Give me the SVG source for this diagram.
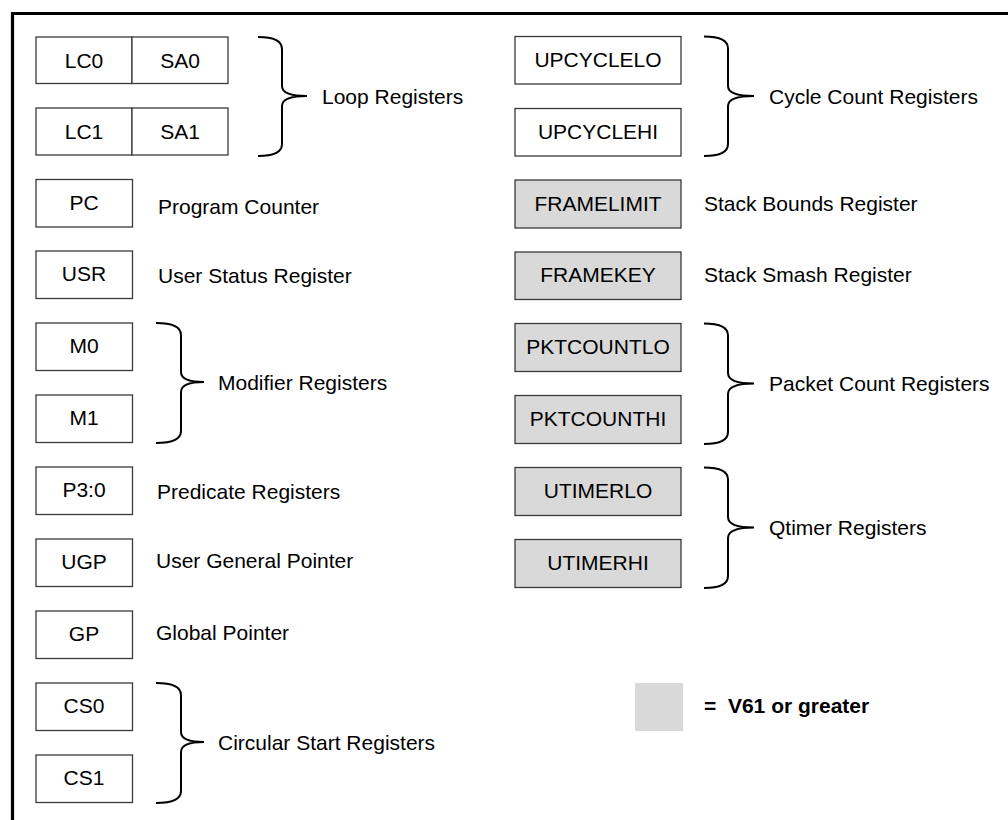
<svg xmlns="http://www.w3.org/2000/svg" width="1008" height="820" viewBox="0 0 1008 820">
<style>
text{font-family:"Liberation Sans",Arial,sans-serif;font-size:21px;fill:#000}
.c{text-anchor:middle}
.b{fill:#fff;stroke:#3a3a3a;stroke-width:1.3}
.g{fill:#d9d9d9;stroke:#3a3a3a;stroke-width:1.3}
.br{fill:none;stroke:#000;stroke-width:2}
.fr{fill:none;stroke:#000;stroke-width:3.2}
.lg{font-weight:bold;white-space:pre}
</style>
<rect width="1008" height="820" fill="#fff"/>
<path class="fr" d="M12.5,820 V13.5 H1008"/>

<g id="loop0"><rect class="b" x="36" y="37" width="96" height="46.5"/><rect class="b" x="132" y="37" width="96" height="46.5"/><text class="c" x="84" y="68">LC0</text><text class="c" x="180" y="68">SA0</text></g>
<g id="loop1"><rect class="b" x="36" y="108" width="96" height="47"/><rect class="b" x="132" y="108" width="96" height="47"/><text class="c" x="84" y="139">LC1</text><text class="c" x="180" y="139">SA1</text></g>
<g id="pc"><rect class="b" x="36" y="179.5" width="96.5" height="47.5"/><text class="c" x="84" y="209.5">PC</text><text x="158" y="214">Program Counter</text></g>
<g id="usr"><rect class="b" x="36" y="251" width="96.5" height="47.5"/><text class="c" x="84" y="281">USR</text><text x="158" y="283">User Status Register</text></g>
<g id="m0"><rect class="b" x="36" y="323" width="96.5" height="47.5"/><text class="c" x="84" y="353">M0</text></g>
<g id="m1"><rect class="b" x="36" y="395" width="96.5" height="47.5"/><text class="c" x="84" y="425">M1</text></g>
<g id="p"><rect class="b" x="36" y="467" width="96.5" height="47.5"/><text class="c" x="84" y="497">P3:0</text><text x="157" y="499">Predicate Registers</text></g>
<g id="ugp"><rect class="b" x="36" y="539" width="96.5" height="47.5"/><text class="c" x="84" y="569">UGP</text><text x="156" y="568">User General Pointer</text></g>
<g id="gp"><rect class="b" x="36" y="611" width="96.5" height="47.5"/><text class="c" x="84" y="641">GP</text><text x="156" y="640">Global Pointer</text></g>
<g id="cs0"><rect class="b" x="36" y="683" width="96.5" height="47.5"/><text class="c" x="84" y="713">CS0</text></g>
<g id="cs1"><rect class="b" x="36" y="755" width="96.5" height="47.5"/><text class="c" x="84" y="785">CS1</text></g>

<g id="upcyclelo"><rect class="b" x="515" y="36.5" width="166" height="47.5"/><text class="c" x="598" y="67">UPCYCLELO</text></g>
<g id="upcyclehi"><rect class="b" x="515" y="108.5" width="166" height="47.5"/><text class="c" x="598" y="139">UPCYCLEHI</text></g>
<g id="framelimit"><rect class="g" x="515" y="180" width="166" height="48"/><text class="c" x="598" y="210.5">FRAMELIMIT</text><text x="704" y="210.5">Stack Bounds Register</text></g>
<g id="framekey"><rect class="g" x="515" y="252" width="166" height="47.5"/><text class="c" x="598" y="282">FRAMEKEY</text><text x="704" y="282">Stack Smash Register</text></g>
<g id="pktcountlo"><rect class="g" x="515" y="323.5" width="166" height="48"/><text class="c" x="598" y="354">PKTCOUNTLO</text></g>
<g id="pktcounthi"><rect class="g" x="515" y="395.5" width="166" height="48"/><text class="c" x="598" y="426">PKTCOUNTHI</text></g>
<g id="utimerlo"><rect class="g" x="515" y="467.5" width="166" height="48"/><text class="c" x="598" y="498">UTIMERLO</text></g>
<g id="utimerhi"><rect class="g" x="515" y="539.5" width="166" height="48"/><text class="c" x="598" y="570">UTIMERHI</text></g>

<g id="legend"><rect x="635" y="683" width="48" height="48" fill="#d9d9d9"/><text class="lg" x="704" y="713">=  V61 or greater</text></g>

<g id="braces">
<path class="br" d="M258,37 Q282,37 282,49 L282,86 Q282,96 307,96 Q282,96 282,106 L282,144 Q282,156 258,156"/>
<text x="322" y="103.5">Loop Registers</text>
<path class="br" d="M704,36.5 Q728,36.5 728,48.5 L728,86 Q728,96 754,96 Q728,96 728,106 L728,144 Q728,156 704,156"/>
<text x="769" y="103.5">Cycle Count Registers</text>
<path class="br" d="M156,323 Q181,323 181,335 L181,372 Q181,382 204,382 Q181,382 181,392 L181,431 Q181,443 156,443"/>
<text x="218" y="389.5">Modifier Registers</text>
<path class="br" d="M704,323.5 Q728,323.5 728,335.5 L728,373 Q728,383.5 754,383.5 Q728,383.5 728,394 L728,432 Q728,444 704,444"/>
<text x="769" y="391">Packet Count Registers</text>
<path class="br" d="M704,467.5 Q728,467.5 728,479.5 L728,517 Q728,527.5 754,527.5 Q728,527.5 728,538 L728,576 Q728,588 704,588"/>
<text x="769" y="535">Qtimer Registers</text>
<path class="br" d="M156,683 Q181,683 181,695 L181,732 Q181,742 204,742 Q181,742 181,752 L181,791 Q181,803 156,803"/>
<text x="218" y="749.5">Circular Start Registers</text>
</g>
</svg>
